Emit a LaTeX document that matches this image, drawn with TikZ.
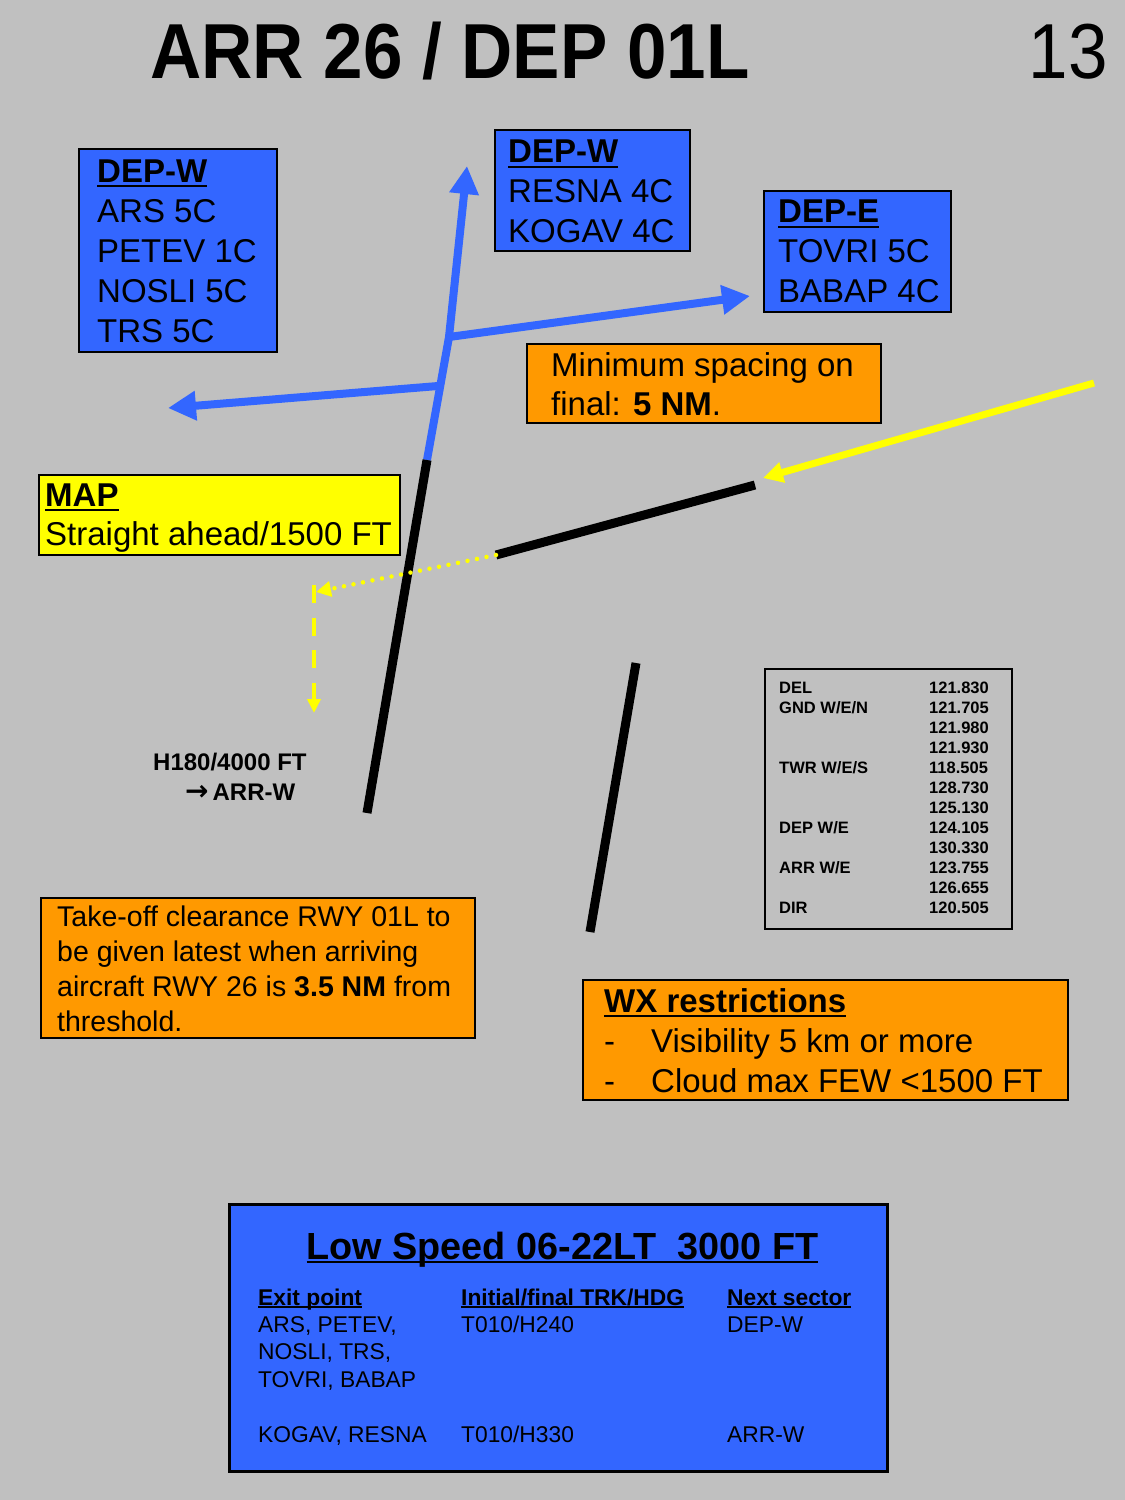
\documentclass[tikz,border=0pt]{standalone}
\usepackage{fontspec}
\usepackage{graphicx}
\setmainfont{Liberation Sans}
\newfontfamily\arrowfont{DejaVu Sans}
\usetikzlibrary{arrows.meta}
\definecolor{bg}{RGB}{192,192,192}
\definecolor{cblue}{RGB}{51,102,255}
\definecolor{corange}{RGB}{255,153,0}
\definecolor{cyellow}{RGB}{255,255,0}
\newcommand\ulbox[3]{\leavevmode\setbox0\hbox{#3}\rlap{\rule[-#1]{\wd0}{#2}}\box0}
\begin{document}
\begin{tikzpicture}[x=1pt,y=-1pt,
  box/.style={draw=black,line width=2pt,anchor=north west,inner sep=0pt},
  bluebox/.style={box,fill=cblue},
  orangebox/.style={box,fill=corange},
  yellowbox/.style={box,fill=cyellow},
  txt/.style={anchor=north west,inner sep=0pt,align=left,font=\fontsize{33}{40}\selectfont},
  bluepath/.style={draw=cblue,line width=8pt},
  bluearrow/.style={bluepath,-{Triangle[length=28pt,width=28pt]}},
  rwy/.style={draw=black,line width=9pt},
  ypath/.style={draw=cyellow,line width=7pt,-{Triangle[length=20pt,width=20pt]}},
]
\useasboundingbox (0,0) rectangle (1125,1500);
\fill[bg] (0,0) rectangle (1125,1500);

% title
\node[anchor=base west,inner sep=0pt,font=\fontsize{78}{80}\selectfont\bfseries] (title) at (150,78) {\scalebox{0.91}[1]{ARR 26 / DEP 01L}};
\node[anchor=base east,inner sep=0pt,font=\fontsize{78}{80}\selectfont] (pagenum) at (1108,78) {\scalebox{0.91}[1]{13}};

% coordinates of the map
\coordinate (r01Lb) at (367,813);
\coordinate (r01Lt) at (427,460);
\coordinate (kink) at (449,337);
\coordinate (ntip) at (467,166);
\coordinate (wturn) at (438,386);
\coordinate (wtip) at (168,408);
\coordinate (etip) at (750,296);
\coordinate (r26w) at (496,555);
\coordinate (r26e) at (755,485);
\coordinate (r01Rt) at (636,663);
\coordinate (r01Rb) at (590,932);
\coordinate (arrs) at (1094,383);
\coordinate (arrtip) at (763,478);
\coordinate (mapturn) at (316,592);
\coordinate (maptop) at (314,585);
\coordinate (mapend) at (314,713);

% departure routes
\draw[bluearrow] (r01Lt) -- (kink) -- (ntip);
\draw[bluearrow] (wturn) -- (wtip);
\draw[bluearrow] (kink) -- (etip);

% runways
\draw[rwy] (r01Lb) -- (r01Lt);
\draw[rwy] (r26w) -- (r26e);
\draw[rwy] (r01Rt) -- (r01Rb);

% arrival and missed approach
\draw[ypath] (arrs) -- (arrtip);
\draw[cyellow,line width=4.5pt,line cap=round,dash pattern=on 0pt off 9.7pt,-{Triangle[length=15pt,width=15pt]}] (r26w) -- (mapturn);
\draw[cyellow,line width=4.5pt,dash pattern=on 18pt off 14.5pt,-{Triangle[length=14pt,width=13pt]}] (maptop) -- (mapend);

% DEP-W left
\node[bluebox,minimum width=198pt,minimum height=203pt] (depwl) at (78,148) {};
\node[txt] (depwlt) at (97,159.5) {\textbf{\ulbox{5pt}{2pt}{DEP-W}}\\ARS 5C\\PETEV 1C\\NOSLI 5C\\TRS 5C};

% DEP-W top
\node[bluebox,minimum width=195pt,minimum height=121pt] (depwt) at (494,129) {};
\node[txt] (depwtt) at (508,140) {\textbf{\ulbox{5pt}{2pt}{DEP-W}}\\RESNA 4C\\KOGAV 4C};

% DEP-E
\node[bluebox,minimum width=187pt,minimum height=121pt] (depe) at (763,190) {};
\node[txt] (depet) at (778,200) {\textbf{\ulbox{5pt}{2pt}{DEP-E}}\\TOVRI 5C\\BABAP 4C};

% Minimum spacing
\node[orangebox,minimum width=354pt,minimum height=79pt] (minsp) at (526,343) {};
\node[txt,font=\fontsize{33}{39}\selectfont] (minspt) at (551,352) {Minimum spacing on\\final: \textbf{5 NM}.};

% MAP
\node[yellowbox,minimum width=361pt,minimum height=80pt] (map) at (38,474) {};
\node[txt,font=\fontsize{33}{39}\selectfont] (mapt) at (45,483.5) {\textbf{\ulbox{4.5pt}{2pt}{MAP}}\\Straight ahead/1500 FT};

% H180 label
\node[anchor=base west,inner sep=0pt,font=\fontsize{24}{30}\selectfont\bfseries] (hdg) at (153,770) {H180/4000 FT};
\node[anchor=base west,inner sep=0pt,font=\fontsize{24}{30}\selectfont\bfseries] (arrw) at (185,800) {{\arrowfont\bfseries\fontsize{28}{30}\selectfont →}\,ARR-W};

% Frequencies
\node[box,line width=1.8pt,minimum width=247pt,minimum height=260pt] (freq) at (764,668) {};
\node[anchor=north west,inner sep=0pt,font=\fontsize{16.5}{20}\selectfont\bfseries] (freqt) at (779,679.5) {\begin{tabular}{@{}p{150pt}@{}l@{}}
DEL & 121.830\\
GND W/E/N & 121.705\\
 & 121.980\\
 & 121.930\\
TWR W/E/S & 118.505\\
 & 128.730\\
 & 125.130\\
DEP W/E & 124.105\\
 & 130.330\\
ARR W/E & 123.755\\
 & 126.655\\
DIR & 120.505
\end{tabular}};

% Take-off clearance
\node[orangebox,minimum width=434pt,minimum height=140pt] (toc) at (40,897) {};
\node[txt,font=\fontsize{28.5}{35}\selectfont] (toct) at (57,906) {Take-off clearance RWY 01L to\\be given latest when arriving\\aircraft RWY 26 is \textbf{3.5 NM} from\\threshold.};

% WX restrictions
\node[orangebox,minimum width=485pt,minimum height=120pt] (wx) at (582,979) {};
\node[txt] (wxt) at (604,988) {\textbf{\ulbox{5pt}{2pt}{WX restrictions}}\\\makebox[47pt][l]{-}Visibility 5 km or more\\\makebox[47pt][l]{-}Cloud max FEW <1500 FT};

% Low speed table
\node[bluebox,line width=2.5pt,minimum width=658pt,minimum height=267pt] (ls) at (228,1203) {};
\node[anchor=base,inner sep=0pt,font=\fontsize{37.8}{40}\selectfont\bfseries] (lstitle) at (562.5,1259) {\ulbox{4pt}{2.2pt}{Low Speed 06-22LT\ \ 3000 FT}};
\node[anchor=north west,inner sep=0pt,font=\fontsize{22.8}{27.4}\selectfont] (lstab) at (258,1285.8) {\begin{tabular}{@{}p{203pt}@{}p{266pt}@{}l@{}}
\textbf{\ulbox{2.5pt}{1.6pt}{Exit point}} & \textbf{\ulbox{2.5pt}{1.6pt}{Initial/final TRK/HDG}} & \textbf{\ulbox{2.5pt}{1.6pt}{Next sector}}\\
ARS, PETEV, & T010/H240 & DEP-W\\
NOSLI, TRS, & & \\
TOVRI, BABAP & & \\
 & & \\
KOGAV, RESNA & T010/H330 & ARR-W
\end{tabular}};
\end{tikzpicture}
\end{document}
